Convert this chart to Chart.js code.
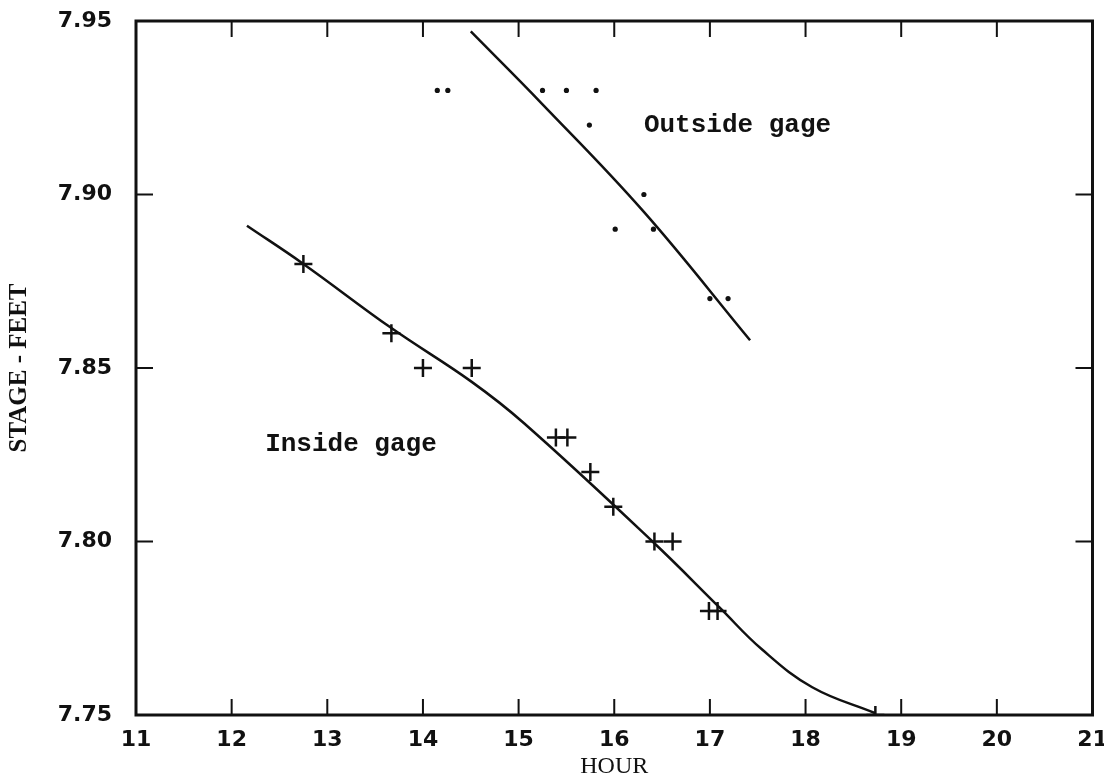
<!DOCTYPE html>
<html>

<head>
    <title>Stage vs hour</title>
    <meta http-equiv="Content-type" content="text/html; charset=utf-8">
    <script src="https://cdn.jsdelivr.net/npm/chart.js@4.4.1/dist/chart.umd.min.js"></script>
    <style>
        body { margin: 0; background: #fff; }
        canvas { display: block; }
    </style>
</head>

<body>
    <canvas id="stage-chart" width="1104" height="782"></canvas>

    <script>
        // -------------------- DATA --------------------
        var hourTicks = [11, 12, 13, 14, 15, 16, 17, 18, 19, 20, 21];
        var stageTicks = [7.75, 7.80, 7.85, 7.90, 7.95];

        // outside gage readings (dots)
        var outsideHour = [14.15, 14.26, 15.25, 15.50, 15.81, 15.74, 16.31, 16.01, 16.41, 17.00, 17.19];
        var outsideStage = [7.93, 7.93, 7.93, 7.93, 7.93, 7.92, 7.90, 7.89, 7.89, 7.87, 7.87];

        // inside gage readings (crosses)
        var insideHour = [12.75, 13.67, 14.00, 14.51, 15.39, 15.51, 15.75, 15.99, 16.42, 16.61, 16.99, 17.08, 18.73];
        var insideStage = [7.88, 7.86, 7.85, 7.85, 7.83, 7.83, 7.82, 7.81, 7.80, 7.80, 7.78, 7.78, 7.75];

        // hand drawn curves through them
        var outsideCurveHour = [14.50, 15.25, 16.31, 17.42];
        var outsideCurveStage = [7.947, 7.926, 7.895, 7.858];
        var insideCurveHour = [12.16, 12.75, 13.67, 14.51, 15.06, 16.40, 17.10, 17.54, 18.07, 18.73];
        var insideCurveStage = [7.891, 7.880, 7.8615, 7.846, 7.834, 7.800, 7.781, 7.769, 7.758, 7.7505];

        var noteText = ['Outside gage', 'Inside gage'];

        function pairs(xs, ys) {
            var out = [];
            for (var i = 0; i < xs.length; i++) out.push({ x: xs[i], y: ys[i] });
            return out;
        }

        var tickFont = { family: 'DejaVu Sans', size: 22, weight: 'bold' };
        var titleFont = { family: 'Liberation Serif', size: 25, weight: 'bold' };

        // frame + inward tick marks on all four sides, plus the two notes
        var frameTicks = {
            id: 'frameTicks',
            afterDatasetsDraw: function(chart) {
                var ctx = chart.ctx;
                var a = chart.chartArea;
                var x = chart.scales.x, y = chart.scales.y;
                ctx.save();
                ctx.strokeStyle = '#111';
                ctx.lineWidth = 2;
                ctx.beginPath();
                x.ticks.forEach(function(t) {
                    var px = x.getPixelForValue(t.value);
                    ctx.moveTo(px, a.bottom); ctx.lineTo(px, a.bottom - 16);
                    ctx.moveTo(px, a.top); ctx.lineTo(px, a.top + 16);
                });
                y.ticks.forEach(function(t) {
                    var py = y.getPixelForValue(t.value);
                    ctx.moveTo(a.left, py); ctx.lineTo(a.left + 17, py);
                    ctx.moveTo(a.right, py); ctx.lineTo(a.right - 17, py);
                });
                ctx.stroke();
                ctx.lineWidth = 3;
                ctx.strokeRect(a.left, a.top, a.right - a.left, a.bottom - a.top);

                ctx.fillStyle = '#111';
                ctx.font = 'bold 26px "Liberation Mono"';
                ctx.textBaseline = 'alphabetic';
                ctx.fillText(noteText[0], x.getPixelForValue(16.31), y.getPixelForValue(7.918));
                ctx.fillText(noteText[1], x.getPixelForValue(12.35), y.getPixelForValue(7.826));
                ctx.restore();
            }
        };

        new Chart(document.getElementById('stage-chart'), {
            type: 'scatter',
            data: {
                datasets: [{
                    label: 'Outside gage',
                    data: pairs(outsideHour, outsideStage),
                    pointStyle: 'circle',
                    pointRadius: 2.6,
                    backgroundColor: '#111',
                    borderColor: '#111',
                    borderWidth: 0
                }, {
                    label: 'Inside gage',
                    data: pairs(insideHour, insideStage),
                    pointStyle: 'cross',
                    pointRadius: 9,
                    borderColor: '#111',
                    borderWidth: 2.5
                }, {
                    label: 'Outside curve',
                    data: pairs(outsideCurveHour, outsideCurveStage),
                    showLine: true,
                    pointRadius: 0,
                    borderColor: '#111',
                    borderWidth: 2.5,
                    tension: 0.4
                }, {
                    label: 'Inside curve',
                    data: pairs(insideCurveHour, insideCurveStage),
                    showLine: true,
                    pointRadius: 0,
                    borderColor: '#111',
                    borderWidth: 2.5,
                    tension: 0.4
                }]
            },
            options: {
                responsive: false,
                animation: false,
                layout: { padding: { top: 21, right: 11, left: 0, bottom: 0 } },
                plugins: {
                    legend: { display: false },
                    tooltip: { enabled: false }
                },
                scales: {
                    x: {
                        type: 'linear',
                        min: 11,
                        max: 21,
                        afterBuildTicks: function(s) { s.ticks = hourTicks.map(function(v) { return { value: v }; }); },
                        afterFit: function(s) { s.height = 67; s.paddingLeft = 0; s.paddingRight = 0; },
                        grid: { display: false, drawTicks: false },
                        border: { display: false },
                        ticks: {
                            color: '#111',
                            font: tickFont,
                            padding: 12,
                            maxRotation: 0,
                            autoSkip: false,
                            callback: function(v) { return String(v); }
                        },
                        title: {
                            display: true,
                            text: 'HOUR',
                            color: '#111',
                            font: { family: 'Liberation Serif', size: 24 },
                            padding: { top: 0, bottom: 1 }
                        }
                    },
                    y: {
                        type: 'linear',
                        min: 7.75,
                        max: 7.95,
                        afterBuildTicks: function(s) { s.ticks = stageTicks.map(function(v) { return { value: v }; }); },
                        afterFit: function(s) { s.width = 136; s.paddingTop = 0; s.paddingBottom = 0; },
                        grid: { display: false, drawTicks: false },
                        border: { display: false },
                        ticks: {
                            color: '#111',
                            font: tickFont,
                            padding: 24,
                            autoSkip: false,
                            callback: function(v) { return Number(v).toFixed(2); }
                        },
                        title: {
                            display: true,
                            text: 'STAGE - FEET',
                            color: '#111',
                            font: titleFont,
                            padding: { top: 5, bottom: 0 }
                        }
                    }
                }
            },
            plugins: [frameTicks]
        });
    </script>

</body>

</html>
